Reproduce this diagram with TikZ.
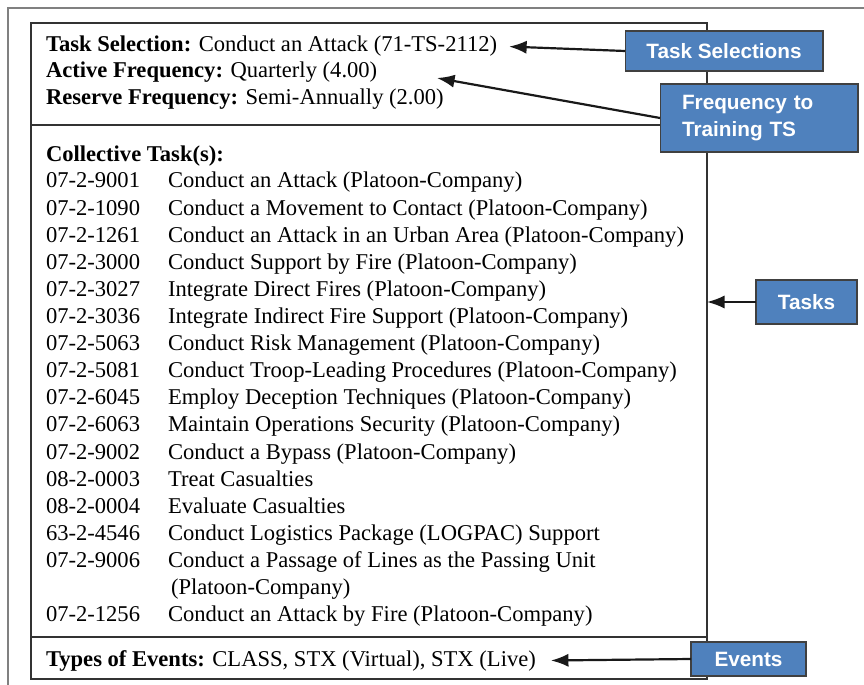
\documentclass[tikz,border=0pt]{standalone}
\usepackage{fontspec}
\setmainfont{Liberation Serif}
\setsansfont{Liberation Sans}
\usetikzlibrary{arrows.meta}
\definecolor{calloutblue}{RGB}{79,129,189}

\begin{document}
\begin{tikzpicture}[
        x=0.02cm, y=-0.02cm,
        every node/.style={inner sep=0pt, outer sep=0pt},
        entry/.style={anchor=base west, font=\fontsize{12.85}{15}\selectfont},
        callout/.style={
            draw=black!75,
            line width=0.6pt,
            fill=calloutblue,
            text=white,
            align=center,
            font=\sffamily\bfseries\fontsize{11.8}{15.4}\selectfont
        },
        pointer/.style={draw=black!90, line width=1.25pt, -{Latex[length=10pt,width=7.5pt]}}
    ]
    \useasboundingbox (0,0) rectangle (864,685);

    % OUTER FRAME
    \draw[gray, line width=1.1pt] (8,685) -- (8,8) -- (864,8);

    % INNER BOX
    \node[draw=black!80, line width=0.7pt, minimum width=13.52cm, minimum height=13.12cm] (frame) at (369,351) {};
    \draw[black!80, line width=0.7pt] (frame.west |- 0,125) -- (frame.east |- 0,125);
    \draw[black!80, line width=0.7pt] (frame.west |- 0,637) -- (frame.east |- 0,637);

    % HEADER
    \node[entry] (sel) at (46,52) {\textbf{Task Selection:} Conduct an Attack (71-TS-2112)};
    \node[entry] (actfreq) at (46,78) {\textbf{Active Frequency:} Quarterly (4.00)};
    \node[entry] (resfreq) at (46,105) {\textbf{Reserve Frequency:} Semi-Annually (2.00)};

    % COLLECTIVE TASKS
    \node[entry] (colhead) at (46,162) {\textbf{Collective Task(s):}};
    \foreach \row/\code/\title in {
        0/07-2-9001/Conduct an Attack (Platoon-Company),
        1/07-2-1090/Conduct a Movement to Contact (Platoon-Company),
        2/07-2-1261/Conduct an Attack in an Urban Area (Platoon-Company),
        3/07-2-3000/Conduct Support by Fire (Platoon-Company),
        4/07-2-3027/Integrate Direct Fires (Platoon-Company),
        5/07-2-3036/Integrate Indirect Fire Support (Platoon-Company),
        6/07-2-5063/Conduct Risk Management (Platoon-Company),
        7/07-2-5081/Conduct Troop-Leading Procedures (Platoon-Company),
        8/07-2-6045/Employ Deception Techniques (Platoon-Company),
        9/07-2-6063/Maintain Operations Security (Platoon-Company),
        10/07-2-9002/Conduct a Bypass (Platoon-Company),
        11/08-2-0003/Treat Casualties,
        12/08-2-0004/Evaluate Casualties,
        13/63-2-4546/Conduct Logistics Package (LOGPAC) Support,
        14/07-2-9006/Conduct a Passage of Lines as the Passing Unit,
        16/07-2-1256/Conduct an Attack by Fire (Platoon-Company)}
    {
        \node[entry] (code\row) at (46,{188+27.1*\row}) {\code};
        \node[entry] (task\row) at (168,{188+27.1*\row}) {\title};
    }
    \node[entry] (task15) at (171,{188+27.1*15}) {(Platoon-Company)};

    % EVENTS
    \node[entry] (evts) at (46,666) {\textbf{Types of Events:} CLASS, STX (Virtual), STX (Live)};

    % CALLOUTS
    \node[callout, minimum width=3.96cm, minimum height=0.8cm] (selbox) at (724,51) {Task Selections};
    \node[callout, align=left, text width=3.08cm, inner xsep=0.44cm, minimum height=1.36cm] (freqbox) at (759,118) {Frequency to\\Training TS};
    \node[callout, minimum width=2.02cm, minimum height=0.88cm] (tasksbox) at (806.5,302) {Tasks};
    \node[callout, minimum width=2.3cm, minimum height=0.68cm] (evbox) at (748.5,659) {Events};
    \coordinate (freqtip) at (437,78);

    \draw[pointer] (selbox.west) -- ([xshift=0.24cm]sel.east);
    \draw[pointer] (freqbox.west) -- (freqtip);
    \draw[pointer] (tasksbox.west) -- (tasksbox.west -| frame.east);
    \draw[pointer] (evbox.west) -- ([xshift=0.3cm]evts.east);
\end{tikzpicture}
\end{document}
